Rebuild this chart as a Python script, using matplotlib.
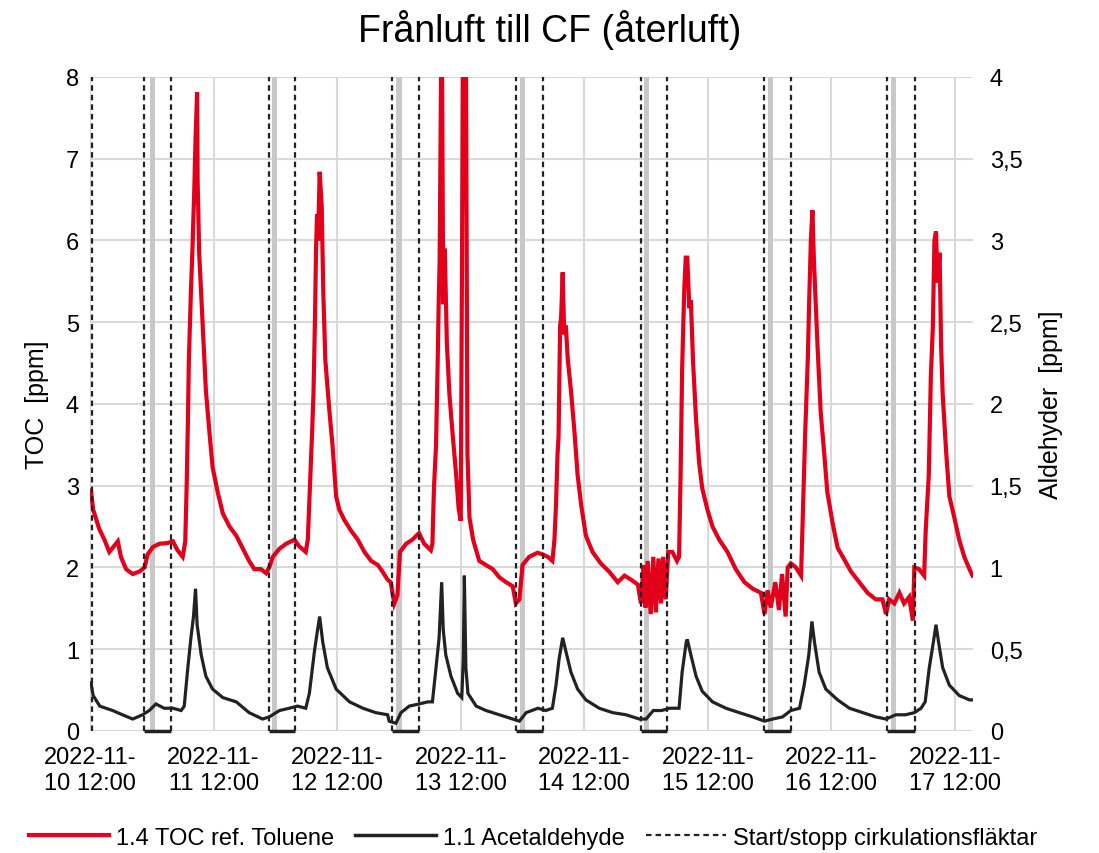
import matplotlib
matplotlib.use("Agg")
import matplotlib.pyplot as plt
from matplotlib.lines import Line2D

plt.rcParams["font.family"] = ["Liberation Sans", "DejaVu Sans"]

# hours after 2022-11-10 12:00
toc_hours = [
    0.2, 0.6, 1.8, 2.8, 3.75, 4.4, 5.4, 6.0, 7.0, 8.3, 9.6, 10.6, 11.2, 12.2, 13.5,
    15.1, 16.1, 17.0, 18.0, 18.5, 18.8, 19.0, 19.2, 19.6, 19.95, 20.3, 20.5, 20.8,
    20.9, 21.2, 21.9, 22.5, 23.2, 23.8, 24.8, 25.8, 27.1, 28.4,
    29.6, 30.9, 31.9, 33.2, 34.2, 34.8, 35.5, 36.8, 38.1, 39.7, 40.6, 41.9, 42.3,
    42.7, 43.1, 43.4, 43.7, 43.9, 44.1, 44.3, 44.6, 45.0, 45.3, 45.7, 46.5, 47.1,
    47.8, 48.4, 49.4, 50.7, 52.0, 53.3, 54.6, 55.9, 56.8, 57.8,
    58.4, 59.1, 59.7, 60.2, 61.4, 62.6, 63.9, 64.9, 66.2, 66.5, 66.8, 67.2, 67.5,
    67.7, 67.9, 68.3, 68.6, 68.9, 69.3, 69.8, 70.4, 71.1, 71.6, 72.0, 72.5, 72.8,
    73.0, 73.3, 73.7, 74.4, 75.6, 76.9, 78.2, 79.5, 80.8, 82.1, 82.7, 83.4, 84.0,
    85.3, 86.9,
    87.9, 88.9, 89.8, 90.2, 90.5, 90.8, 91.0, 91.3, 91.5, 91.8, 92.1, 92.4, 92.8,
    93.4, 94.1, 94.7, 95.4, 96.3, 97.6, 99.2, 100.8, 102.5, 103.8, 105.1, 106.4,
    107.0, 107.5, 107.9, 108.3, 108.9, 109.4, 109.9, 110.4, 110.9, 111.3, 111.8,
    112.3, 113.1, 114.0, 114.4, 114.7, 115.0, 115.4, 115.7,
    116.0, 116.4, 116.7, 117.1, 117.7, 118.3, 118.9, 119.9, 120.9, 122.2, 123.8,
    125.4, 127.1, 128.7, 130.3, 131.0, 131.6, 132.2, 133.1, 133.8, 134.4, 135.1,
    135.5, 136.1, 137.1, 138.1, 138.5, 138.9, 139.4, 139.7, 140.0, 140.3, 140.6,
    141.3, 141.9, 142.6, 143.2, 144.2, 145.2,
    146.2, 147.8, 149.4, 151.0, 152.6, 153.9, 154.6, 155.2, 156.2, 157.2, 158.1,
    159.1, 159.8, 160.1, 161.0, 162.0, 162.3, 162.9, 163.3, 163.7, 164.0, 164.3,
    164.6, 165.0, 165.3, 165.6, 166.3, 166.9, 167.9, 168.8, 169.8, 170.8, 171.4,
]
toc_ppm = [
    2.94, 2.71, 2.47, 2.34, 2.19, 2.24, 2.32, 2.13, 1.98, 1.92, 1.95, 2.00, 2.16, 2.25, 2.29,
    2.30, 2.32, 2.21, 2.13, 2.32, 3.07, 3.75, 4.54, 5.38, 6.00, 6.73, 7.26, 7.81,
    6.73, 5.85, 4.96, 4.17, 3.65, 3.23, 2.92, 2.66, 2.50, 2.39,
    2.24, 2.08, 1.98, 1.98, 1.93, 2.00, 2.13, 2.23, 2.29, 2.34, 2.26, 2.19, 2.34,
    2.97, 3.60, 4.12, 5.06, 5.90, 6.32, 6.00, 6.84, 6.42, 5.38, 4.54, 3.91, 3.49,
    2.87, 2.71, 2.58, 2.45, 2.34, 2.19, 2.08, 2.03, 1.95, 1.85,
    1.82, 1.56, 1.66, 2.19, 2.29, 2.34, 2.42, 2.29, 2.21, 2.29, 2.97, 3.49, 4.43,
    5.17, 5.74, 9.00, 5.22, 5.90, 4.75, 4.12, 3.65, 3.14, 2.72, 2.57, 9.00, 9.00,
    8.50, 3.39, 2.61, 2.34, 2.08, 2.03, 1.98, 1.88, 1.82, 1.77, 1.56, 1.61, 2.03,
    2.13, 2.18,
    2.16, 2.13, 2.08, 2.34, 2.76, 3.39, 3.60, 4.96, 5.06, 5.61, 4.85, 4.96, 4.54,
    4.17, 3.65, 3.13, 2.76, 2.39, 2.19, 2.05, 1.95, 1.82, 1.90, 1.85, 1.79,
    1.56, 2.03, 1.51, 2.08, 1.43, 2.13, 1.45, 2.11, 1.56, 2.13, 1.61,
    2.19, 2.19, 2.08, 2.13, 3.13, 4.43, 5.38, 5.79,
    5.79, 5.17, 5.27, 4.54, 3.81, 3.28, 2.97, 2.71, 2.50, 2.34, 2.19,
    1.98, 1.82, 1.74, 1.69, 1.43, 1.72, 1.51, 1.82, 1.48, 1.92, 1.40,
    2.00, 2.05, 2.00, 1.90, 2.76, 3.65, 4.54, 5.32, 6.00, 6.37, 5.74,
    4.70, 3.91, 3.39, 2.92, 2.55, 2.24,
    2.13, 1.95, 1.82, 1.69, 1.61, 1.61, 1.43, 1.61, 1.56, 1.69, 1.56,
    1.64, 1.35, 2.00, 1.98, 1.90, 2.45, 3.13, 4.33, 4.96, 6.00, 6.11,
    5.48, 5.85, 4.70, 4.12, 3.39, 2.87, 2.60, 2.34, 2.13, 1.98, 1.90,
]

ald_hours = [
    0.2, 0.6, 1.9, 4.4, 6.3, 8.3, 10.2, 11.5, 12.8, 14.4, 16.1, 17.7, 18.3, 19.0,
    19.6, 20.1, 20.5, 20.8, 21.6, 22.5, 23.8, 25.8, 28.4,
    30.9, 33.5, 34.8, 36.8, 38.7, 40.3, 41.9, 42.6, 43.6, 44.2, 44.6, 45.2, 46.1,
    47.8, 50.4, 53.0, 55.5, 57.8,
    58.1, 59.4, 60.4, 62.0, 63.9, 65.6, 66.5, 67.2, 67.8, 68.3, 68.6, 69.1, 70.1,
    71.4, 72.2, 72.5, 72.7, 73.0, 73.4, 75.0, 76.9, 79.5, 82.1, 83.4, 84.7, 87.0,
    88.5, 89.8, 90.5, 91.1, 91.8, 92.4, 93.4, 94.7, 96.3, 98.9, 101.5, 104.1,
    106.7, 108.0, 109.4, 111.0, 112.6, 114.4, 115.0, 115.8,
    116.0, 116.7, 117.7, 118.9, 120.9, 123.5, 126.1, 128.7, 131.0, 132.6, 134.5,
    136.1, 137.8, 138.7, 139.6, 140.2, 140.7, 141.6, 142.9, 145.2,
    147.5, 150.1, 152.6, 154.6, 156.5, 158.4, 160.1, 161.4, 162.2, 163.0, 163.8,
    164.3, 164.8, 165.6, 166.9, 168.8, 170.8, 171.4,
]
ald_ppm = [
    0.295, 0.217, 0.152, 0.125, 0.099, 0.073, 0.099, 0.125, 0.165, 0.139, 0.139, 0.125, 0.152, 0.387,
    0.57, 0.70, 0.87, 0.65, 0.465, 0.335, 0.256, 0.204, 0.178,
    0.112, 0.073, 0.086, 0.125, 0.139, 0.152, 0.139, 0.23, 0.49, 0.62, 0.70, 0.544, 0.387,
    0.256, 0.178, 0.139, 0.112, 0.099,
    0.06, 0.047, 0.112, 0.152, 0.165, 0.178, 0.178, 0.387, 0.57, 0.91, 0.62, 0.465, 0.335,
    0.23, 0.204, 0.44, 0.95, 0.387, 0.23, 0.152, 0.125, 0.099, 0.073, 0.06, 0.112, 0.139,
    0.125, 0.139, 0.28, 0.44, 0.57, 0.49, 0.36, 0.256, 0.19, 0.139, 0.112, 0.099,
    0.073, 0.073, 0.125, 0.125, 0.139, 0.139, 0.36, 0.544,
    0.56, 0.465, 0.335, 0.243, 0.178, 0.139, 0.112, 0.086, 0.06, 0.073, 0.086,
    0.125, 0.139, 0.28, 0.465, 0.67, 0.544, 0.36, 0.256, 0.19,
    0.139, 0.112, 0.086, 0.073, 0.099, 0.099, 0.112, 0.139, 0.178, 0.387, 0.544,
    0.65, 0.544, 0.387, 0.28, 0.217, 0.19, 0.19,
]

start_stop_hours = [0.3, 10.5, 15.7, 34.7, 39.8, 58.7, 63.9, 82.7, 88.0,
                    107.0, 112.0, 130.9, 136.1, 154.7, 160.2]
grey_band_hours = [12.2, 35.9, 60.0, 84.0, 108.1, 132.2, 156.1]

tick_hours = [0, 24, 48, 72, 96, 120, 144, 168]
tick_labels = ["2022-11-\n%d 12:00" % d for d in range(10, 18)]
right_labels = ["0", "0,5", "1", "1,5", "2", "2,5", "3", "3,5", "4"]

RED = "#e2001a"
DARK = "#222222"

fig = plt.figure(figsize=(10.99, 8.54), dpi=100)
ax = fig.add_axes([0.0819, 0.1429, 0.8035, 0.7658])
ax2 = ax.twinx()

ax.set_xlim(0, 171.5)
ax.set_ylim(0, 8)
ax2.set_ylim(0, 4)

for t in grey_band_hours:
    ax.axvspan(t - 0.5, t + 0.5, color="#c8c8c8", lw=0, zorder=1)

ax.plot(toc_hours, toc_ppm, color=RED, lw=3.0, zorder=3, solid_joinstyle="miter")
ax2.plot(ald_hours, ald_ppm, color=DARK, lw=2.3, zorder=3, solid_joinstyle="miter")

for t in start_stop_hours:
    ax.axvline(t, color=DARK, lw=1.6, ls=(0, (2.5, 1.8)), zorder=4)
pairs = start_stop_hours[1:]
for a, b in zip(pairs[0::2], pairs[1::2]):
    ax.plot([a, b], [0, 0], color=DARK, lw=2.5, zorder=5, clip_on=False,
            solid_capstyle="butt")

ax.set_xticks(tick_hours)
ax.set_xticklabels(tick_labels, fontsize=17, linespacing=1.2)
ax.set_yticks(range(0, 9))
ax.set_yticklabels([str(v) for v in range(0, 9)], fontsize=17)
ax2.set_yticks([i * 0.5 for i in range(9)])
ax2.set_yticklabels(right_labels, fontsize=17)

ax.grid(True, color="#d9d9d9", lw=1.5, zorder=0)
ax.set_axisbelow(True)
for a in (ax, ax2):
    for s in a.spines.values():
        s.set_visible(False)
    a.tick_params(length=0)
ax.tick_params(axis="y", pad=8)
ax.tick_params(axis="x", pad=11)
ax2.tick_params(axis="y", pad=12)

ax.set_ylabel("TOC  [ppm]", fontsize=18, labelpad=12)
ax2.set_ylabel("Aldehyder  [ppm]", fontsize=18, rotation=90, labelpad=12)

fig.suptitle("Frånluft till CF (återluft)", fontsize=27, y=0.988)

handles = [
    Line2D([], [], color=RED, lw=3),
    Line2D([], [], color=DARK, lw=2.5),
    Line2D([], [], color=DARK, lw=1.6, ls=(0, (2.5, 1.8))),
]
labels = ["1.4 TOC ref. Toluene", "1.1 Acetaldehyde", "Start/stopp cirkulationsfläktar"]
fig.legend(handles, labels, loc="center", bbox_to_anchor=(0.485, 0.018), ncol=3,
           frameon=False, fontsize=17, handlelength=3.4, columnspacing=0.9,
           handletextpad=0.3)

fig.savefig("out.png", dpi=100)
